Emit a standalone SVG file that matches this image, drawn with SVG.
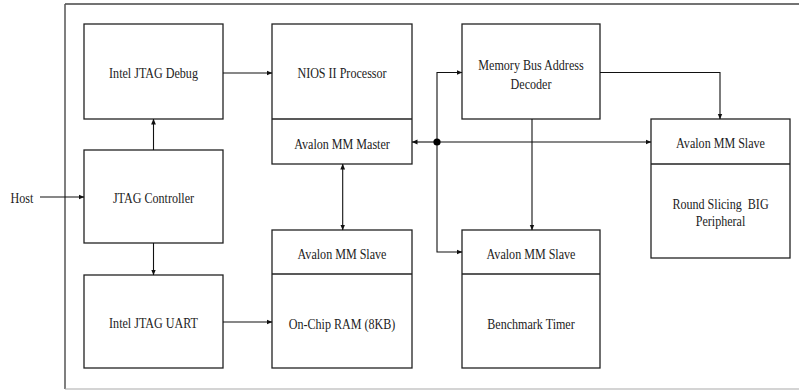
<svg xmlns="http://www.w3.org/2000/svg" width="799" height="390" viewBox="0 0 799 390">
<style>
.box{fill:#fff;stroke:#222;stroke-width:1.3}
.div{stroke:#222;stroke-width:1.3}
.ln{fill:none;stroke:#111;stroke-width:1.1}
text{font-family:'Liberation Serif','Times New Roman',serif;font-size:15.5px;fill:#222;text-anchor:middle}
</style>
<defs>
<marker id="ah" markerWidth="6" markerHeight="6" refX="5.5" refY="3" orient="auto" markerUnits="userSpaceOnUse">
<path d="M0,0.6 L5.8,3 L0,5.4 Z" fill="#111"/>
</marker>
<marker id="ahs" markerWidth="6" markerHeight="6" refX="5.5" refY="3" orient="auto-start-reverse" markerUnits="userSpaceOnUse">
<path d="M0,0.6 L5.8,3 L0,5.4 Z" fill="#111"/>
</marker>
</defs>
<rect width="799" height="390" fill="#fff"/>
<g id="frame">
<line x1="65" y1="4" x2="799" y2="4" stroke="#444" stroke-width="1.5"/>
<line x1="65" y1="4" x2="65" y2="389" stroke="#555" stroke-width="1.5"/>
<line x1="65" y1="389" x2="799" y2="389" stroke="#aaa" stroke-width="1.2"/>
</g>
<g id="host"><g transform="translate(22,202.7) scale(0.78,1)"><text x="0" y="0">Host</text></g></g>
<g id="jtag-debug">
<rect class="box" x="84" y="24" width="139" height="95"/>
<g transform="translate(153.5,78.3) scale(0.78,1)"><text x="0" y="0">Intel JTAG Debug</text></g>
</g>
<g id="jtag-controller">
<rect class="box" x="84" y="150" width="139" height="93"/>
<g transform="translate(153.5,203.3) scale(0.78,1)"><text x="0" y="0">JTAG Controller</text></g>
</g>
<g id="jtag-uart">
<rect class="box" x="84" y="275" width="139" height="93"/>
<g transform="translate(153.5,327.8) scale(0.78,1)"><text x="0" y="0">Intel JTAG UART</text></g>
</g>
<g id="nios">
<rect class="box" x="272" y="24" width="140" height="140"/>
<line class="div" x1="272" y1="119" x2="412" y2="119"/>
<g transform="translate(342,78.3) scale(0.78,1)"><text x="0" y="0">NIOS II Processor</text></g>
<g transform="translate(342,148.8) scale(0.78,1)"><text x="0" y="0">Avalon MM Master</text></g>
</g>
<g id="decoder">
<rect class="box" x="462" y="24" width="138" height="95"/>
<g transform="translate(531,69.5) scale(0.78,1)"><text x="0" y="0">Memory Bus Address</text></g>
<g transform="translate(531,88.5) scale(0.78,1)"><text x="0" y="0">Decoder</text></g>
</g>
<g id="ram">
<rect class="box" x="272" y="230" width="140" height="138"/>
<line class="div" x1="272" y1="274" x2="412" y2="274"/>
<g transform="translate(342,258.8) scale(0.78,1)"><text x="0" y="0">Avalon MM Slave</text></g>
<g transform="translate(342,328.5) scale(0.78,1)"><text x="0" y="0">On-Chip RAM (8KB)</text></g>
</g>
<g id="timer">
<rect class="box" x="462" y="230" width="138" height="138"/>
<line class="div" x1="462" y1="274" x2="600" y2="274"/>
<g transform="translate(531,258.8) scale(0.78,1)"><text x="0" y="0">Avalon MM Slave</text></g>
<g transform="translate(531,328.5) scale(0.78,1)"><text x="0" y="0">Benchmark Timer</text></g>
</g>
<g id="big">
<rect class="box" x="651" y="119" width="139" height="139"/>
<line class="div" x1="651" y1="164" x2="790" y2="164"/>
<g transform="translate(720.5,148.2) scale(0.78,1)"><text x="0" y="0">Avalon MM Slave</text></g>
<g transform="translate(720.5,209.3) scale(0.78,1)"><text x="0" y="0" xml:space="preserve">Round Slicing  BIG</text></g>
<g transform="translate(720.5,226.2) scale(0.78,1)"><text x="0" y="0">Peripheral</text></g>
</g>
<g id="connectors">
<line class="ln" x1="40" y1="197" x2="84" y2="197" marker-end="url(#ah)"/>
<line class="ln" x1="153.5" y1="150" x2="153.5" y2="119" marker-end="url(#ah)"/>
<line class="ln" x1="153.5" y1="243" x2="153.5" y2="275" marker-end="url(#ah)"/>
<line class="ln" x1="223" y1="73" x2="272" y2="73" marker-end="url(#ah)"/>
<line class="ln" x1="223" y1="322" x2="272" y2="322" marker-end="url(#ah)"/>
<line class="ln" x1="342.7" y1="164" x2="342.7" y2="230" marker-start="url(#ahs)" marker-end="url(#ah)"/>
<line class="ln" x1="437" y1="142" x2="412" y2="142" marker-end="url(#ah)"/>
<line class="ln" x1="437" y1="142" x2="651" y2="142" marker-end="url(#ah)"/>
<polyline class="ln" points="437,142 437,72.5 462,72.5" marker-end="url(#ah)"/>
<polyline class="ln" points="437,142 437,252 462,252" marker-end="url(#ah)"/>
<polyline class="ln" points="600,72.5 720,72.5 720,119" marker-end="url(#ah)"/>
<line class="ln" x1="532" y1="119" x2="532" y2="230" marker-end="url(#ah)"/>
<circle cx="437" cy="142" r="3.6" fill="#000"/>
</g>
</svg>
